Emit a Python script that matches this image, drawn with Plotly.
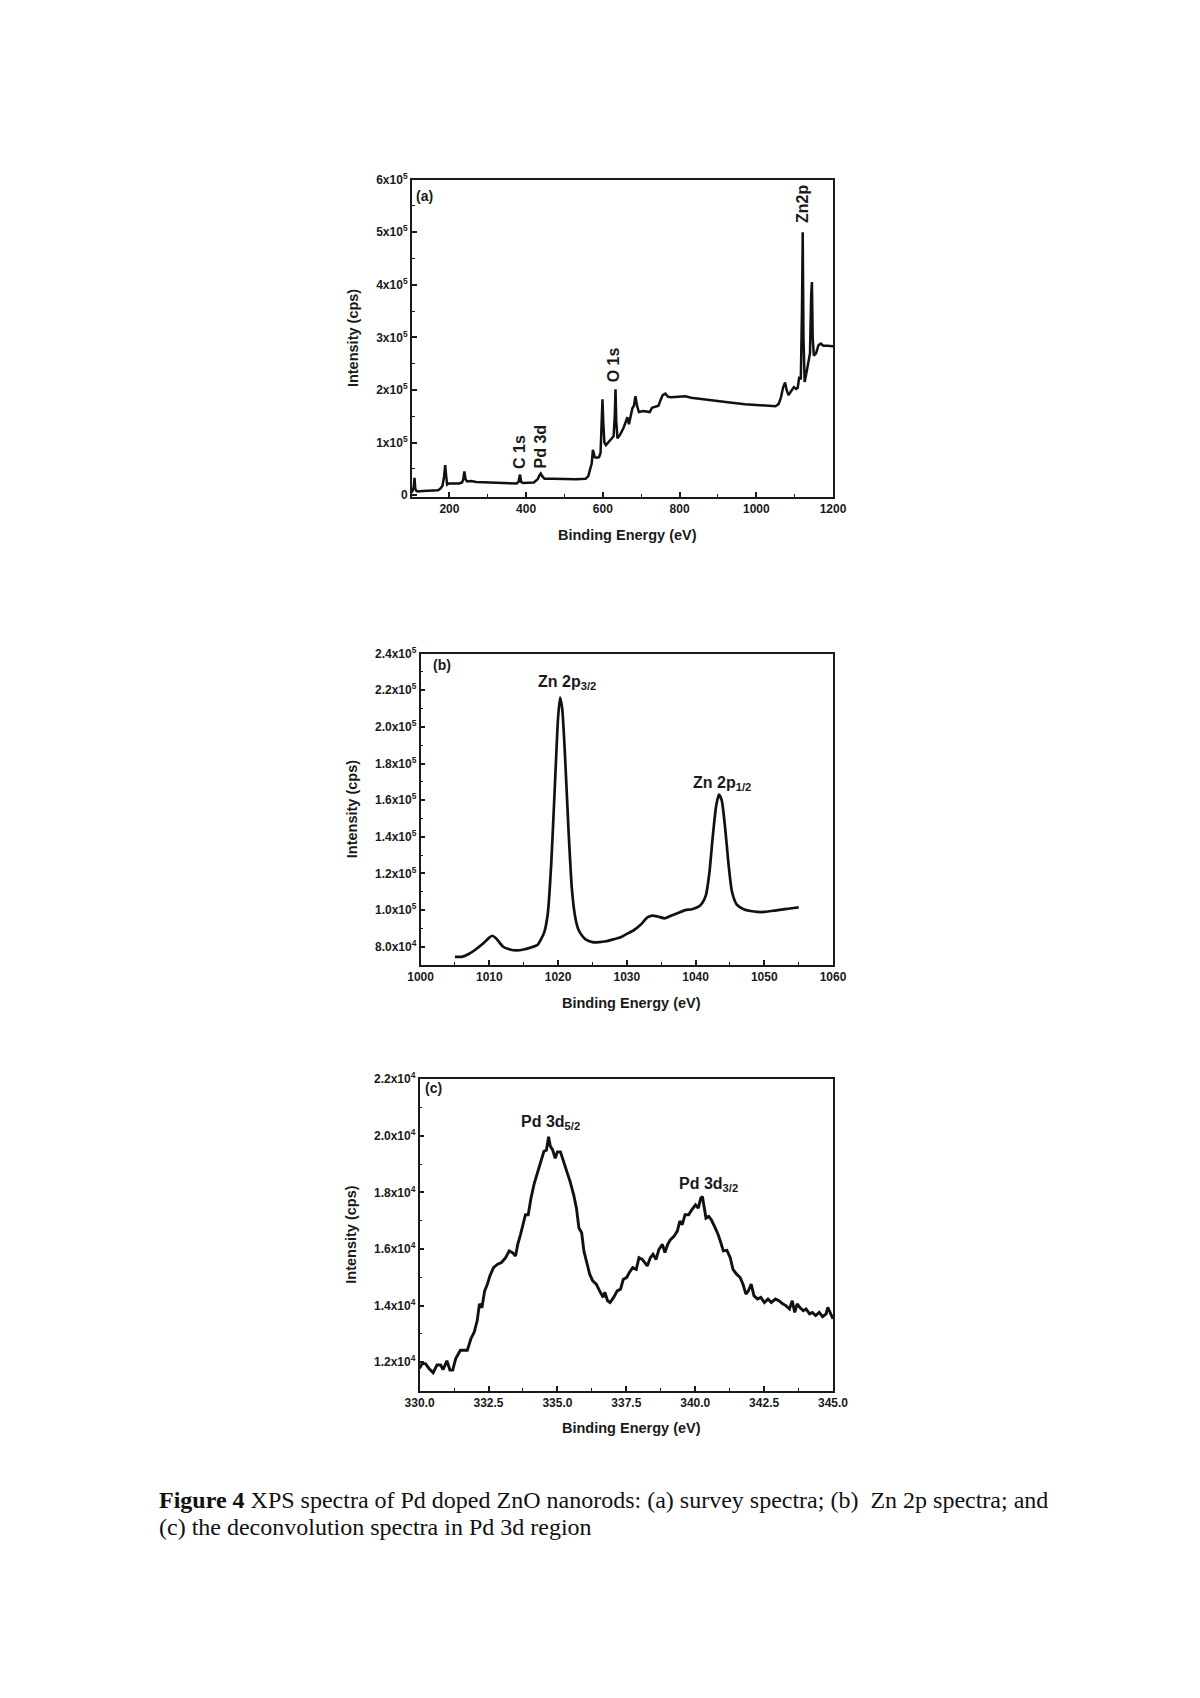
import plotly.graph_objects as go

W, H = 1200, 1698

# (a) survey spectrum
survey_be = [102, 104, 107, 109, 111, 114, 118, 130, 150, 170, 176, 182, 186, 189, 191, 194, 198,
             210, 225, 233, 236, 239, 242, 246, 252, 256, 270, 300, 340, 375, 380, 384, 387, 392,
             420, 430, 435, 438, 442, 448, 470, 500, 530, 555, 562, 567, 571, 574, 576, 579, 584,
             590, 594, 597, 599, 601, 604, 608, 616, 624, 628, 631, 633, 635, 638, 645, 654, 660,
             664, 668, 672, 677, 681, 685, 689, 694, 705, 715, 722, 728, 735, 745, 750, 756, 763,
             770, 778, 790, 805, 815, 830, 870, 920, 970, 1020, 1050, 1058, 1064, 1070, 1075, 1079,
             1084, 1090, 1098, 1104, 1108, 1112, 1116, 1119, 1121, 1123, 1126, 1130, 1135, 1140,
             1143, 1145, 1147, 1150, 1156, 1162, 1168, 1175, 1185, 1200]
survey_int = [5000, 8000, 15000, 33000, 12000, 8000, 7000, 8000, 8000, 9000, 12000, 18000, 35000,
              57000, 40000, 20000, 22000, 22000, 22000, 24000, 30000, 45000, 30000, 26000, 27000,
              27000, 25000, 24000, 23000, 22000, 25000, 39000, 25000, 23000, 24000, 30000, 38000,
              41000, 36000, 31000, 31000, 30000, 30000, 31000, 36000, 50000, 60000, 86000, 80000,
              72000, 71000, 72000, 80000, 130000, 182000, 140000, 100000, 95000, 102000, 110000,
              112000, 150000, 201000, 140000, 108000, 115000, 128000, 140000, 148000, 135000,
              150000, 165000, 170000, 188000, 170000, 158000, 160000, 158000, 158000, 166000,
              168000, 170000, 180000, 190000, 193000, 187000, 186000, 187000, 187000, 188000,
              185000, 181000, 177000, 173000, 170000, 169000, 173000, 185000, 205000, 214000,
              200000, 190000, 197000, 205000, 202000, 204000, 225000, 220000, 350000, 500000,
              300000, 215000, 230000, 250000, 270000, 380000, 405000, 300000, 265000, 270000,
              285000, 288000, 284000, 284000, 283000]

# (b) Zn 2p region
zn_be = [1005, 1006, 1007, 1008, 1009, 1010, 1010.4, 1011, 1012, 1013, 1014, 1015, 1016, 1017,
         1017.5, 1018, 1018.5, 1019, 1019.5, 1020, 1020.3, 1020.6, 1021, 1021.5, 1022, 1022.5,
         1023, 1023.5, 1024, 1025, 1026, 1027, 1028, 1029, 1030, 1031, 1032, 1033, 1033.7,
         1034.5, 1035.5, 1036.5, 1037.5, 1038.5, 1039.5, 1040.5, 1041, 1041.5, 1042, 1042.5,
         1043, 1043.4, 1043.8, 1044.3, 1044.8, 1045.3, 1046, 1047, 1048, 1049, 1050, 1051, 1052,
         1053, 1054, 1055]
zn_int = [74500, 74500, 76000, 78500, 81500, 85000, 86000, 84500, 80000, 78500, 78000, 78500,
          79500, 81000, 84000, 88000, 98000, 125000, 165000, 205000, 216000, 210000, 185000,
          145000, 112000, 96000, 89000, 86000, 84000, 82500, 82500, 83000, 84000, 85000, 87000,
          89000, 92000, 96000, 97000, 96500, 95500, 97000, 98500, 100000, 100500, 102000, 104000,
          108000, 120000, 140000, 157000, 163000, 160000, 145000, 125000, 110000, 103000, 100500,
          99500, 99000, 99000, 99500, 100000, 100500, 101000, 101500]

# (c) Pd 3d region
pd_be = [330.0, 330.09, 330.21, 330.34, 330.49, 330.63, 330.76, 330.85, 330.99, 331.1, 331.2,
         331.31, 331.48, 331.64, 331.73, 331.86, 331.98, 332.09, 332.17, 332.26, 332.36, 332.46,
         332.55, 332.68, 332.83, 332.97, 333.12, 333.25, 333.37, 333.48, 333.56, 333.66, 333.75,
         333.84, 333.94, 334.04, 334.16, 334.28, 334.41, 334.51, 334.6, 334.68, 334.74, 334.83,
         334.92, 335.0, 335.11, 335.21, 335.33, 335.46, 335.59, 335.69, 335.78, 335.88, 335.96,
         336.07, 336.17, 336.28, 336.41, 336.53, 336.66, 336.72, 336.82, 336.91, 337.04, 337.17,
         337.29, 337.39, 337.51, 337.61, 337.73, 337.86, 337.96, 338.08, 338.18, 338.26, 338.37,
         338.47, 338.58, 338.68, 338.81, 338.9, 339.0, 339.1, 339.23, 339.35, 339.44, 339.53,
         339.63, 339.76, 339.88, 340.01, 340.11, 340.2, 340.26, 340.32, 340.39, 340.49, 340.58,
         340.7, 340.83, 340.93, 341.02, 341.15, 341.27, 341.37, 341.5, 341.63, 341.73, 341.84,
         341.93, 342.03, 342.13, 342.26, 342.38, 342.51, 342.64, 342.76, 342.91, 343.04, 343.17,
         343.29, 343.42, 343.52, 343.61, 343.7, 343.79, 343.92, 344.02, 344.15, 344.25, 344.37,
         344.5, 344.62, 344.75, 344.81, 344.91, 345.0]
pd_int = [11780, 11950, 11950, 11780, 11630, 11900, 11900, 11740, 12050, 11720, 11720, 12130,
          12420, 12420, 12420, 12830, 13060, 13470, 14060, 13920, 14520, 14760, 15050, 15340,
          15460, 15520, 15690, 15930, 15870, 15750, 16160, 16510, 16860, 17210, 17210, 17790,
          18320, 18730, 19200, 19450, 19490, 19960, 19640, 19490, 19200, 19430, 19430, 19140,
          18730, 18380, 17910, 17440, 16740, 16570, 15930, 15460, 15110, 14870, 14760, 14520,
          14290, 14470, 14170, 14110, 14290, 14520, 14580, 14930, 14990, 15170, 15340, 15280,
          15690, 15630, 15520, 15400, 15690, 15810, 15630, 15980, 16160, 15870, 16160, 16330,
          16450, 16630, 16980, 16860, 17210, 17210, 17390, 17560, 17440, 17790, 17850, 17440,
          17090, 17150, 17040, 16800, 16510, 16220, 15930, 15950, 15690, 15280, 15110, 14990,
          14760, 14410, 14520, 14760, 14350, 14230, 14290, 14110, 14230, 14110, 14230, 14170,
          14060, 14000, 13880, 14170, 13760, 14060, 13940, 13820, 13880, 13710, 13760, 13650,
          13760, 13610, 13710, 13940, 13710, 13530]

# tick labels
a_yvals = [0, 100000, 200000, 300000, 400000, 500000, 600000]
a_ytext = ["0"] + ["%dx10<sup>5</sup>" % i for i in range(1, 7)]
a_xvals = [200, 400, 600, 800, 1000, 1200]
b_yvals = [80000, 100000, 120000, 140000, 160000, 180000, 200000, 220000, 240000]
b_ytext = ["8.0x10<sup>4</sup>", "1.0x10<sup>5</sup>", "1.2x10<sup>5</sup>", "1.4x10<sup>5</sup>",
           "1.6x10<sup>5</sup>", "1.8x10<sup>5</sup>", "2.0x10<sup>5</sup>", "2.2x10<sup>5</sup>",
           "2.4x10<sup>5</sup>"]
b_xvals = [1000, 1010, 1020, 1030, 1040, 1050, 1060]
c_yvals = [12000, 14000, 16000, 18000, 20000, 22000]
c_ytext = ["1.2x10<sup>4</sup>", "1.4x10<sup>4</sup>", "1.6x10<sup>4</sup>", "1.8x10<sup>4</sup>",
           "2.0x10<sup>4</sup>", "2.2x10<sup>4</sup>"]
c_xvals = [330.0, 332.5, 335.0, 337.5, 340.0, 342.5, 345.0]
c_xtext = ["330.0", "332.5", "335.0", "337.5", "340.0", "342.5", "345.0"]

caption_1 = ("<b>Figure 4</b> XPS spectra of Pd doped ZnO nanorods: (a) survey spectra; "
             "(b)  Zn 2p spectra; and")
caption_2 = "(c) the deconvolution spectra in Pd 3d region"

# panel frames in page pixels: left, right, top, bottom
boxes = {"a": (407, 839, 172, 492), "b": (416, 839, 650, 964), "c": (415, 839, 1079, 1393)}

LINE = "#1a1a1a"
FONT = "Liberation Sans, Arial, sans-serif"
TICK_FONT = dict(family=FONT, size=12, color="#1a1a1a", weight="bold")


def dom(box):
    l, r, t, b = box
    return [l / W, r / W], [1 - b / H, 1 - t / H]


def xax(box, rng, vals, text, minor_dtick, minor_0, anchor):
    d, _ = dom(box)
    return dict(domain=d, range=rng, anchor=anchor, tickmode="array", tickvals=vals,
                ticktext=text, ticks="inside", ticklen=5, tickwidth=1.5, tickcolor=LINE,
                showline=True, linecolor=LINE, linewidth=1.7, mirror=True, showgrid=False,
                zeroline=False, tickfont=TICK_FONT,
                minor=dict(ticks="inside", ticklen=3, tickwidth=1.2, tickcolor=LINE,
                           dtick=minor_dtick, tick0=minor_0, showgrid=False))


def yax(box, rng, vals, text, minor_dtick, anchor):
    _, d = dom(box)
    return dict(domain=d, range=rng, anchor=anchor, tickmode="array", tickvals=vals,
                ticktext=text, ticks="inside", ticklen=5, tickwidth=1.5, tickcolor=LINE,
                showline=True, linecolor=LINE, linewidth=1.7, mirror=True, showgrid=False,
                zeroline=False, tickfont=TICK_FONT,
                minor=dict(ticks="inside", ticklen=3, tickwidth=1.2, tickcolor=LINE,
                           dtick=minor_dtick, tick0=0, showgrid=False))


fig = go.Figure()
fig.add_trace(go.Scatter(x=survey_be, y=survey_int, mode="lines", xaxis="x", yaxis="y",
                         line=dict(color="#111", width=2.5), showlegend=False))
fig.add_trace(go.Scatter(x=zn_be, y=zn_int, mode="lines", xaxis="x2", yaxis="y2",
                         line=dict(color="#111", width=2.7, shape="spline", smoothing=0.6),
                         showlegend=False))
fig.add_trace(go.Scatter(x=pd_be, y=pd_int, mode="lines", xaxis="x3", yaxis="y3",
                         line=dict(color="#111", width=2.9), showlegend=False))

ann = []


def label(text, x, y, xref, yref, size=13, angle=0, xanchor="center", yanchor="middle"):
    ann.append(dict(text=text, x=x, y=y, xref=xref, yref=yref, showarrow=False,
                    textangle=angle, xanchor=xanchor, yanchor=yanchor,
                    font=dict(family=FONT, size=size, color="#1a1a1a", weight="bold")))


# axis titles
for key in ("a", "b", "c"):
    l, r, t, b = boxes[key]
    label("Binding Energy (eV)", (l + r) / 2 / W + 0.004, 1 - (b + 38) / H, "paper", "paper",
          size=14.5)
    tx = 346.5 if key != "c" else 344.5
    label("Intensity (cps)", tx / W, 1 - (t + b) / 2 / H, "paper", "paper", size=14.5, angle=-90)

# panel letters
label("(a)", 0.006, 0.98, "x domain", "y domain", size=14, xanchor="left", yanchor="top")
label("(b)", 0.026, 0.963, "x2 domain", "y2 domain", size=14, xanchor="left")
label("(c)", 0.008, 0.97, "x3 domain", "y3 domain", size=14, xanchor="left")

# peak labels
label("C 1s", 384, 82000, "x", "y", size=16, angle=-90)
label("Pd 3d", 438, 92000, "x", "y", size=16, angle=-90)
label("O 1s", 628, 248000, "x", "y", size=16, angle=-90)
label("Zn2p", 1121, 553000, "x", "y", size=16, angle=-90)
label("Zn 2p<sub>3/2</sub>", 1021.3, 224400, "x2", "y2", size=16)
label("Zn 2p<sub>1/2</sub>", 1043.8, 168900, "x2", "y2", size=16)
label("Pd 3d<sub>5/2</sub>", 334.76, 20460, "x3", "y3", size=16)
label("Pd 3d<sub>3/2</sub>", 340.48, 18260, "x3", "y3", size=16)

# caption, one annotation per line
for text, yc in ((caption_1, 1503), (caption_2, 1531)):
    ann.append(dict(text=text, x=146 / W, y=1 - yc / H, xref="paper", yref="paper",
                    showarrow=False, xanchor="left", yanchor="middle", align="left",
                    font=dict(family="Liberation Serif, Times New Roman, serif", size=24,
                              color="#111")))

fig.update_layout(
    width=W, height=H, margin=dict(l=0, r=0, t=0, b=0), autosize=False,
    paper_bgcolor="white", plot_bgcolor="white", showlegend=False,
    xaxis=xax(boxes["a"], [102, 1200], a_xvals, [str(v) for v in a_xvals], 100, 100, "y"),
    yaxis=yax(boxes["a"], [-3500, 600000], a_yvals, a_ytext, 50000, "x"),
    xaxis2=xax(boxes["b"], [1000, 1060], b_xvals, [str(v) for v in b_xvals], 5, 1000, "y2"),
    yaxis2=yax(boxes["b"], [70000, 240000], b_yvals, b_ytext, 10000, "x2"),
    xaxis3=xax(boxes["c"], [330, 345], c_xvals, c_xtext, 1.25, 330, "y3"),
    yaxis3=yax(boxes["c"], [11000, 22000], c_yvals, c_ytext, 1000, "x3"),
    annotations=ann,
)

# the figure is sized to the window, so drop the page's default body margin
fig.write_html("out.html", config={"displayModeBar": False},
               post_script="document.body.style.margin = '0';")
